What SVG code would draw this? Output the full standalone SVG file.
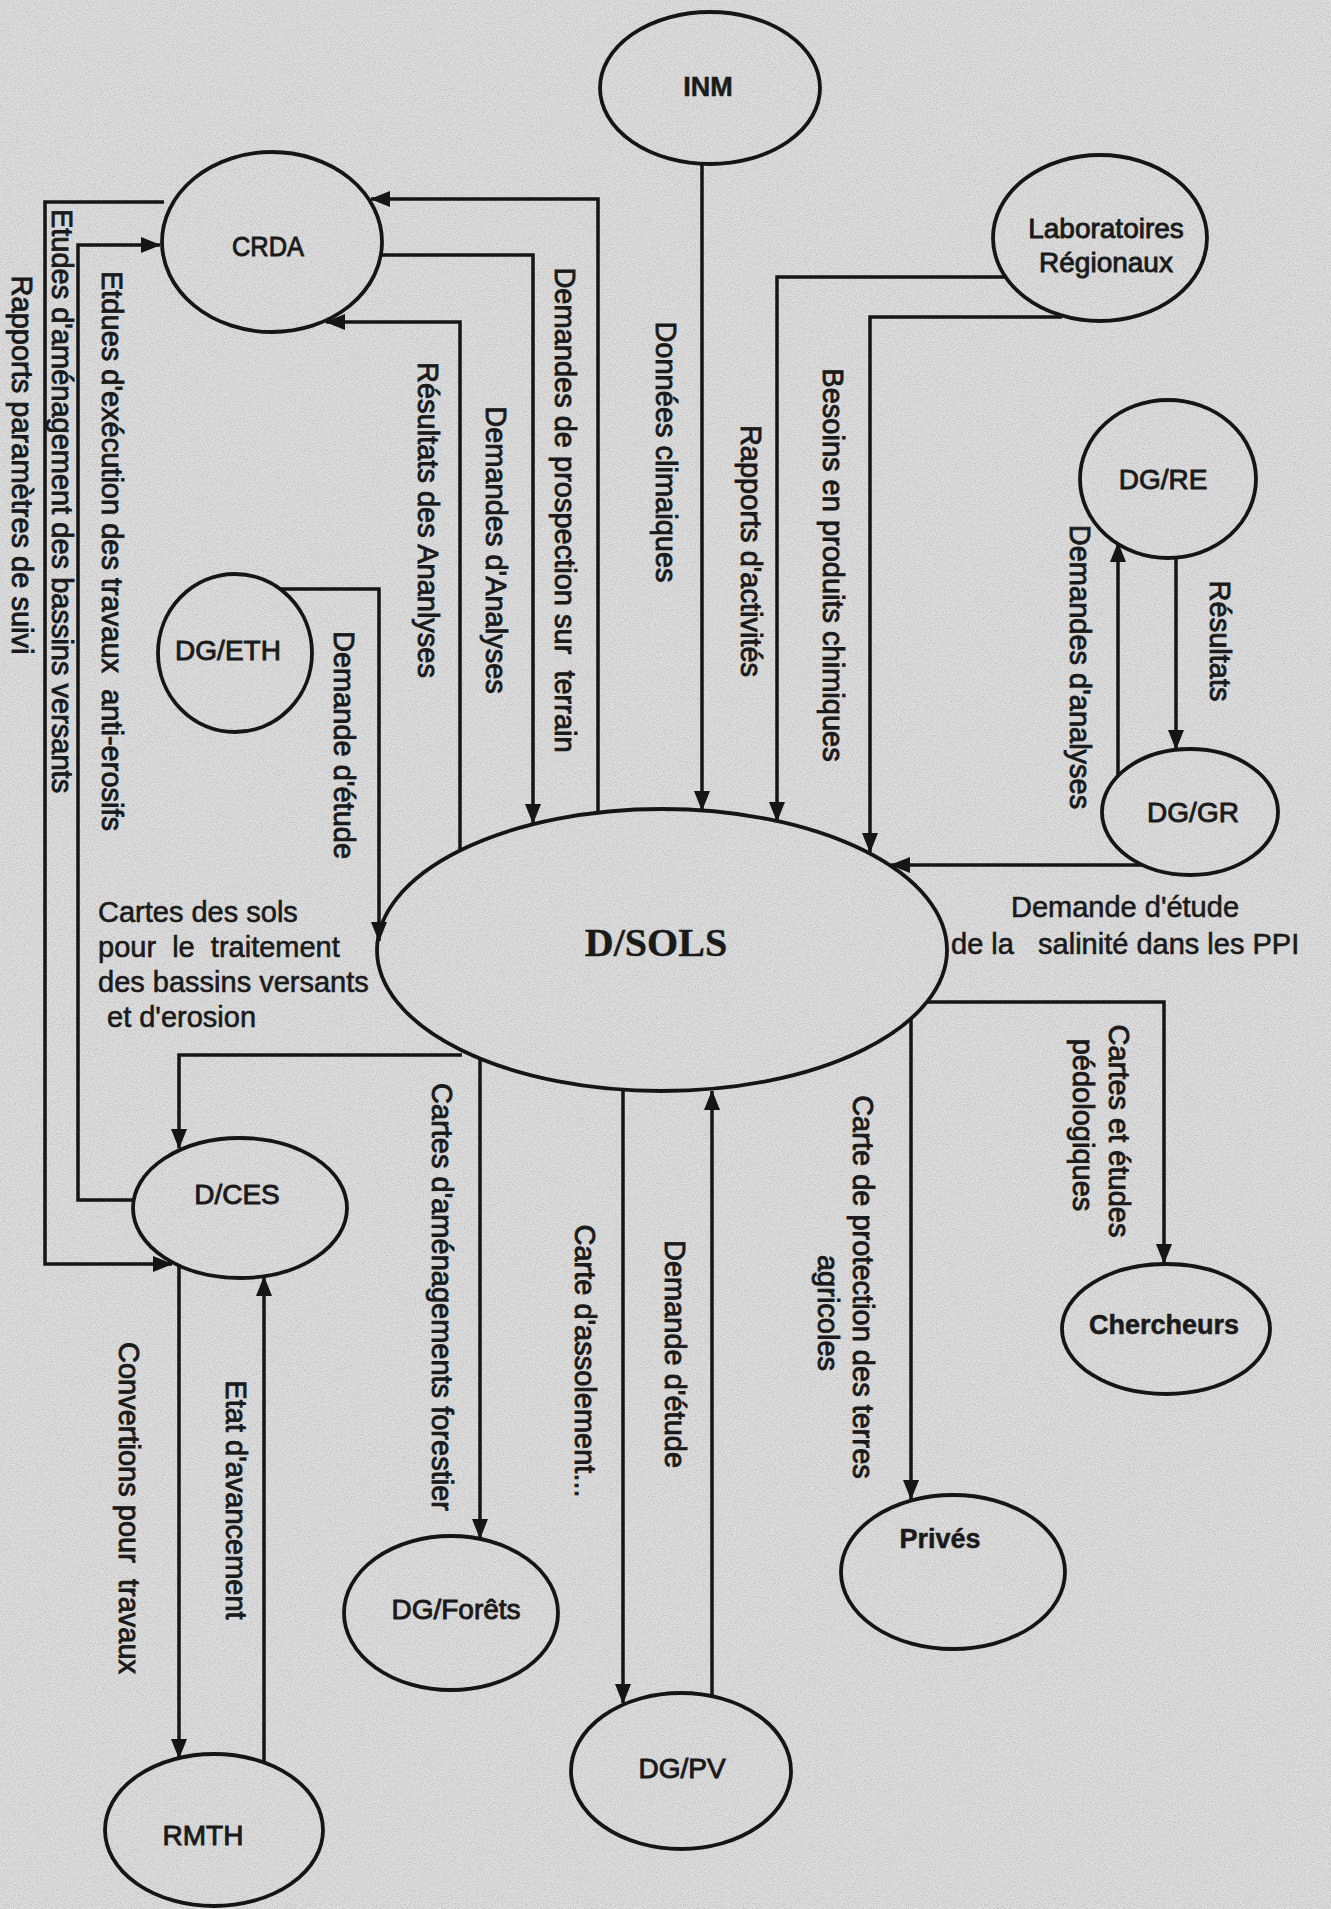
<svg xmlns="http://www.w3.org/2000/svg" width="1331" height="1909" viewBox="0 0 1331 1909">
<defs>
<style>
.node{fill:none;stroke:#151515;stroke-width:3.8}
.edge{fill:none;stroke:#151515;stroke-width:3.5;marker-end:url(#ah)}
text{font-family:"Liberation Sans",Arial,sans-serif;fill:#1a1a1a;stroke:#1a1a1a;stroke-width:0.9}
.nl{font-size:28px;text-anchor:middle;dominant-baseline:central}
.nb{font-size:27px;font-weight:bold;text-anchor:middle;dominant-baseline:central;stroke-width:0.5}
.lbl{font-size:29px;text-anchor:middle;dominant-baseline:central}
.hl{font-size:29px;dominant-baseline:central;stroke-width:0.6}
.big{font-family:"Liberation Serif","Times New Roman",serif;font-weight:bold;font-size:40px;text-anchor:middle;dominant-baseline:central;stroke-width:0.4}
</style>
<marker id="ah" viewBox="0 0 20 16" refX="19" refY="8" markerWidth="20" markerHeight="16" markerUnits="userSpaceOnUse" orient="auto">
<path d="M0,0 L20,8 L0,16 z" fill="#151515"/>
</marker>
<filter id="grain" x="0" y="0" width="100%" height="100%">
<feTurbulence type="fractalNoise" baseFrequency="0.85" numOctaves="2" seed="7"/>
<feColorMatrix type="matrix" values="0 0 0 0 0.3  0 0 0 0 0.3  0 0 0 0 0.3  0.9 0 0 0 -0.32"/>
</filter>
</defs>
<rect x="0" y="0" width="1331" height="1909" fill="#e0e0e0"/>
<rect x="0" y="0" width="1331" height="1909" filter="url(#grain)"/>

<g id="connectors">
<path class="edge" d="M702,164 V810"/>
<path class="edge" d="M1007,277 H777 V821"/>
<path class="edge" d="M1062,317 H870 V852"/>
<path class="edge" d="M598,813 V199 H371"/>
<path class="edge" d="M381,255 H533 V823"/>
<path class="edge" d="M460,850 V322 H326"/>
<path class="edge" d="M279,589 H379 V941"/>
<path class="edge" d="M164,202 H45 V1264 H172"/>
<path class="edge" d="M133,1200 H78 V245 H160"/>
<path class="edge" d="M462,1055 H179 V1148"/>
<path class="edge" d="M179,1266 V1758"/>
<path class="edge" d="M264,1763 V1277"/>
<path class="edge" d="M480,1058 V1538"/>
<path class="edge" d="M623,1091 V1703"/>
<path class="edge" d="M712,1696 V1091"/>
<path class="edge" d="M911,1019 V1499"/>
<path class="edge" d="M927,1002 H1164 V1263"/>
<path class="edge" d="M1176,557 V749"/>
<path class="edge" d="M1118,775 V543"/>
<path class="edge" d="M1143,865 H891"/>

<text class="lbl" transform="translate(666,452) rotate(90)">Données climaiques</text>
<text class="lbl" transform="translate(751,551) rotate(90)">Rapports d'activités</text>
<text class="lbl" transform="translate(833,565) rotate(90)">Besoins en produits chimiques</text>
<text class="lbl" transform="translate(565,510) rotate(90)" xml:space="preserve">Demandes de prospection sur  terrain</text>
<text class="lbl" transform="translate(496,550) rotate(90)">Demandes d'Analyses</text>
<text class="lbl" transform="translate(428,520) rotate(90)">Résultats des Ananlyses</text>
<text class="lbl" transform="translate(344,745) rotate(90)">Demande d'étude</text>
<text class="lbl" transform="translate(112,551) rotate(90)" xml:space="preserve">Etdues d'exécution des travaux  anti-erosifs</text>
<text class="lbl" transform="translate(62,501) rotate(90)">Etudes d'aménagement des bassins versants</text>
<text class="lbl" transform="translate(22,465) rotate(90)">Rapports paramètres de suivi</text>
<text class="lbl" transform="translate(1080,667) rotate(90)">Demandes d'analyses</text>
<text class="lbl" transform="translate(1220,641) rotate(90)">Résultats</text>
<text class="lbl" transform="translate(129,1508) rotate(90)" xml:space="preserve">Convertions pour  travaux</text>
<text class="lbl" transform="translate(236,1500) rotate(90)">Etat d'avancement</text>
<text class="lbl" transform="translate(442,1297) rotate(90)">Cartes d'aménagements forestier</text>
<text class="lbl" transform="translate(585,1361) rotate(90)">Carte d'assolement...</text>
<text class="lbl" transform="translate(675,1354) rotate(90)">Demande d'étude</text>
<text class="lbl" transform="translate(863,1287) rotate(90)">Carte de protection des terres</text>
<text class="lbl" transform="translate(828,1313) rotate(90)">agricoles</text>
<text class="lbl" transform="translate(1119,1131) rotate(90)">Cartes et études</text>
<text class="lbl" transform="translate(1083,1125) rotate(90)">pédologiques</text>

<text class="hl" x="98" y="912">Cartes des sols</text>
<text class="hl" x="98" y="947" xml:space="preserve">pour  le  traitement</text>
<text class="hl" x="98" y="982">des bassins versants</text>
<text class="hl" x="107" y="1017">et d'erosion</text>
<text class="hl" x="1125" y="907" text-anchor="middle">Demande d'étude</text>
<text class="hl" x="951" y="944" xml:space="preserve">de la   salinité dans les PPI</text>
</g>

<g id="node-inm"><ellipse class="node" cx="710" cy="88" rx="110" ry="76"/><text class="nb" x="708" y="87">INM</text></g>
<g id="node-crda"><ellipse class="node" cx="272" cy="242" rx="110" ry="90"/><text class="nl" x="268" y="246" textLength="72" lengthAdjust="spacingAndGlyphs">CRDA</text></g>
<g id="node-labo"><ellipse class="node" cx="1100" cy="238" rx="107" ry="83"/><text class="nl" x="1106" y="228">Laboratoires</text><text class="nl" x="1106" y="262">Régionaux</text></g>
<g id="node-dgre"><ellipse class="node" cx="1168" cy="479" rx="88" ry="79"/><text class="nl" x="1163" y="479">DG/RE</text></g>
<g id="node-dgeth"><ellipse class="node" cx="235" cy="653" rx="77" ry="79"/><text class="nl" x="228" y="650">DG/ETH</text></g>
<g id="node-dgg"><ellipse class="node" cx="1190" cy="812" rx="88" ry="63"/><text class="nl" x="1193" y="812">DG/GR</text></g>
<g id="node-dsols"><ellipse class="node" cx="662" cy="950" rx="285" ry="141"/><text class="big" x="656" y="942">D/SOLS</text></g>
<g id="node-dces"><ellipse class="node" cx="240" cy="1208" rx="107" ry="70"/><text class="nl" x="237" y="1194">D/CES</text></g>
<g id="node-chercheurs"><ellipse class="node" cx="1166" cy="1329" rx="104" ry="65"/><text class="nb" x="1164" y="1325">Chercheurs</text></g>
<g id="node-prives"><ellipse class="node" cx="953" cy="1572" rx="112" ry="77"/><text class="nb" x="940" y="1539">Privés</text></g>
<g id="node-dgforets"><ellipse class="node" cx="451" cy="1613" rx="107" ry="77"/><text class="nl" x="456" y="1609">DG/Forêts</text></g>
<g id="node-dgpv"><ellipse class="node" cx="681" cy="1771" rx="110" ry="78"/><text class="nl" x="682" y="1768">DG/PV</text></g>
<g id="node-rmth"><ellipse class="node" cx="214" cy="1830" rx="109" ry="76"/><text class="nl" x="203" y="1835">RMTH</text></g>
</svg>
